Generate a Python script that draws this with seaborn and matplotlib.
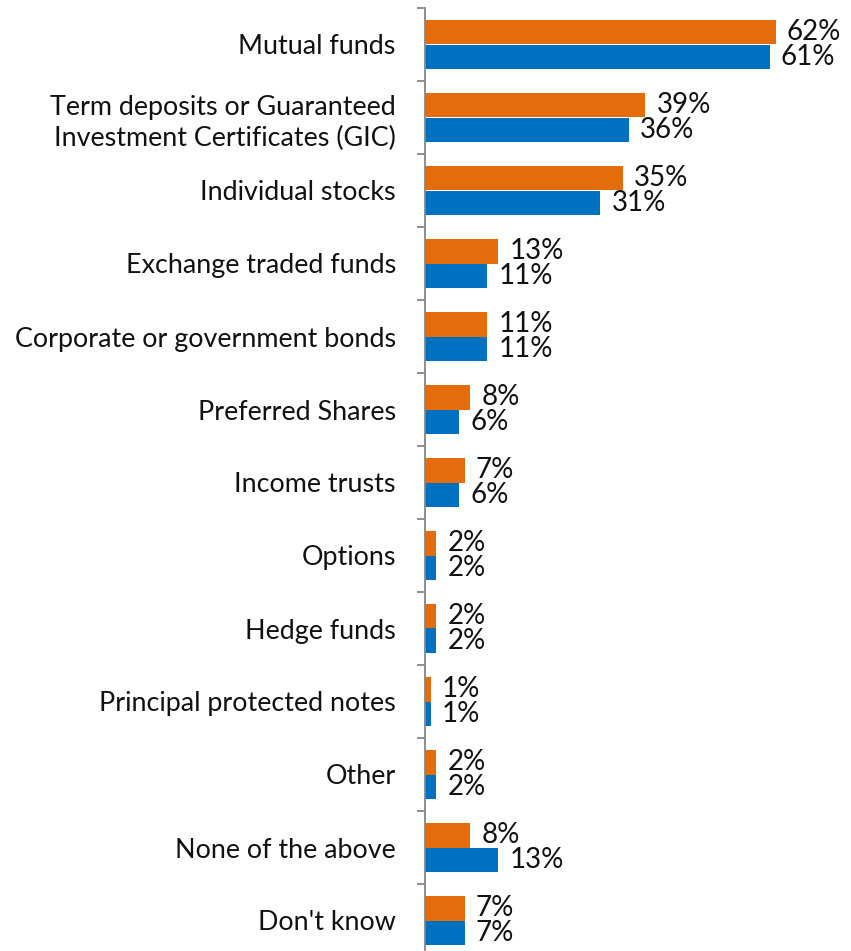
import matplotlib
matplotlib.use("Agg")
import matplotlib.pyplot as plt
import pandas as pd
import seaborn as sns

categories = [
    "Mutual funds",
    "Term deposits or Guaranteed\nInvestment Certificates (GIC)",
    "Individual stocks",
    "Exchange traded funds",
    "Corporate or government bonds",
    "Preferred Shares",
    "Income trusts",
    "Options",
    "Hedge funds",
    "Principal protected notes",
    "Other",
    "None of the above",
    "Don't know",
]
series_names = ["Series 1", "Series 2"]
series_1 = [62, 39, 35, 13, 11, 8, 7, 2, 2, 1, 2, 8, 7]
series_2 = [61, 36, 31, 11, 11, 6, 6, 2, 2, 1, 2, 13, 7]
colors = ["#E46C0A", "#0070C0"]

df = pd.DataFrame({
    "category": categories * 2,
    "value": series_1 + series_2,
    "series": [series_names[0]] * len(categories) + [series_names[1]] * len(categories),
})

sns.set_theme(style="white")
plt.rcParams["font.family"] = ["Lato", "DejaVu Sans"]

W, H = 851, 951
fig = plt.figure(figsize=(W / 100, H / 100), dpi=100)
ax = fig.add_axes([425 / W, -6 / H, 424 / W, 949 / H])

sns.barplot(
    data=df, y="category", x="value", hue="series", order=categories,
    hue_order=series_names, palette=colors, orient="h", width=0.66,
    legend=False, ax=ax, linewidth=0, saturation=1,
)

for cont in ax.containers:
    ax.bar_label(cont, labels=[f"{v:.0f}%" for v in cont.datavalues],
                 padding=8, fontsize=20, color="#111111")

ax.set_xlim(0, 75)
ax.set_ylim(len(categories) - 0.5, -0.5)
ax.set_xlabel("")
ax.set_ylabel("")
ax.set_xticks([])

for side in ("top", "right", "bottom"):
    ax.spines[side].set_visible(False)
ax.spines["left"].set_color("#868686")
ax.spines["left"].set_linewidth(1.3)

ax.tick_params(axis="y", which="major", length=0, pad=21, labelsize=19.4,
               labelcolor="#111111")
ax.set_yticks([i - 0.5 for i in range(len(categories) + 1)], minor=True)
ax.tick_params(axis="y", which="minor", length=6, width=1.3, color="#868686",
               direction="out", left=True)
for lbl in ax.get_yticklabels():
    lbl.set_horizontalalignment("right")
    lbl.set_linespacing(1.3)

fig.savefig("out.png", dpi=100)
